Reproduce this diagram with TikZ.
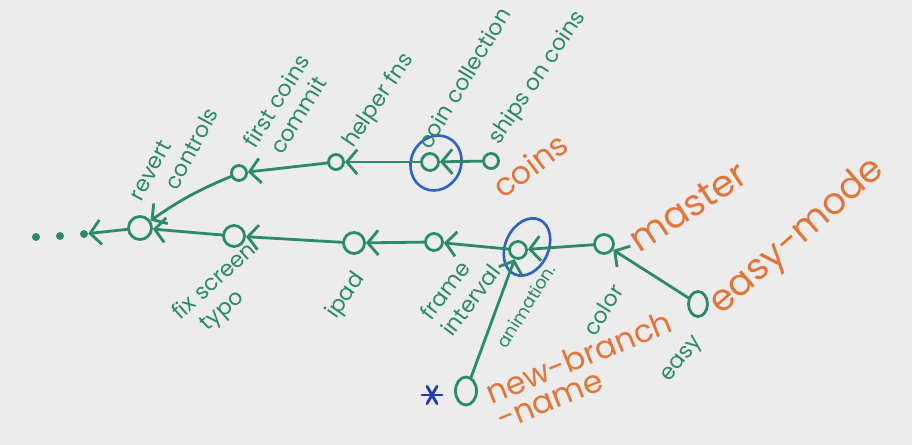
\documentclass[tikz,border=0pt]{standalone}
\usepackage{fontspec}
\setmainfont{Poppins}
\usetikzlibrary{arrows.meta, positioning, shapes.geometric}
\definecolor{cgreen}{HTML}{2B8A6B}
\definecolor{corange}{HTML}{E2763A}
\definecolor{cblue}{HTML}{2E64BF}
\definecolor{cstar}{HTML}{2338B2}
\definecolor{cboard}{HTML}{ECECEC}
\tikzset{
  commit/.style={draw=cgreen, circle, line width=1.6pt, inner sep=0pt,
                 minimum size=0.32cm},
  trail/.style={fill=cgreen, circle, inner sep=0pt, minimum size=0.16cm},
  parent/.style={-{Straight Barb[length=6pt, width=14pt]}, line width=1.6pt,
                 cgreen, line cap=round},
  msg/.style={text=cgreen, font=\fontsize{12.5}{15}\selectfont, inner sep=0pt},
  branch/.style={text=corange, font=\fontsize{18}{16}\selectfont, inner sep=0pt},
  ring/.style={draw=cblue, ellipse, line width=1.5pt, inner sep=0pt},
}

\begin{document}
\begin{tikzpicture}[x=0.02cm, y=-0.02cm]
  \fill[cboard] (0,0) rectangle (912,445);
  \useasboundingbox (0,0) rectangle (912,445);
  % history before
  \node[trail] (d1) at (36,237) {};
  \node[trail] (d2) at (60,236) {};
  \node[trail] (d3) at (84,234) {};
  % master line
  \node[commit, minimum size=0.46cm] (rev) at (140,228) {};
  \node[commit, minimum size=0.42cm] (fst) at (234,236) {};
  \node[commit, minimum size=0.42cm] (ipad) at (354,243) {};
  \node[commit, minimum size=0.34cm] (fint) at (434,242) {};
  \node[commit, minimum size=0.34cm] (anim) at (518,250) {};
  \node[commit, minimum size=0.38cm] (col) at (604,244) {};
  \node[commit, ellipse, minimum width=0.38cm, minimum height=0.5cm] (easy) at (698,304) {};
  \node[commit, ellipse, minimum width=0.42cm, minimum height=0.56cm] (nbn) at (466,391) {};
  % coins branch
  \node[commit, minimum size=0.3cm] (fcc) at (239,173) {};
  \node[commit, minimum size=0.3cm] (hfn) at (336,162) {};
  \node[commit, minimum size=0.34cm] (ccol) at (430,162) {};
  \node[commit, minimum size=0.3cm] (soc) at (491,161) {};
  % highlights
  \node[ring, minimum width=1.0cm, minimum height=1.12cm, rotate=-25] (ccring) at (436,163) {};
  \node[ring, minimum width=0.86cm, minimum height=1.2cm, rotate=-25] (anring) at (527,247) {};
  % parents
  \draw[parent] (rev) -- (d3);
  \draw[parent] (fst) -- (rev);
  \draw[parent] (fcc) to[bend right=6] (rev);
  \draw[parent] (hfn) -- (fcc);
  \draw[parent] (ccol) -- (hfn);
  \draw[parent] (soc) -- (ccol);
  \draw[parent] (ipad) -- (fst);
  \draw[parent] (fint) -- (ipad);
  \draw[parent] (anim) -- (fint);
  \draw[parent] (col) -- (anim);
  \draw[parent] (easy) -- (col);
  \draw[parent] (nbn) -- (anim);
  % commit messages
  \node[msg, rotate=62, align=left] (lrev) at (174,154) {revert\\\hspace*{1.2em}controls};
  \node[msg, rotate=58, align=center] (lfcc) at (287,108) {first coins\\commit};
  \node[msg, rotate=56] (lhfn) at (379,101) {helper fns};
  \node[msg, rotate=59] (lccol) at (464,78) {coin collection};
  \node[msg, rotate=56] (lsoc) at (538,78) {ships on coins};
  \node[msg, rotate=42, align=left] (lfst) at (224,292) {fix screen\\\hspace*{0.6em}typo};
  \node[msg, rotate=55] (lipad) at (346,296) {ipad};
  \node[msg, rotate=53, align=left] (lfint) at (460,292) {frame\\interval};
  \node[msg, rotate=58, font=\fontsize{10}{10}\selectfont] (lanim) at (526,306) {animation.};
  \node[msg, rotate=58] (lcol) at (603,310) {color};
  \node[msg, rotate=52] (leasy) at (683,360) {easy};
  % branch names
  \node[branch, rotate=37] (bcoins) at (530,165) {coins};
  \node[branch, rotate=33, font=\fontsize{21}{21}\selectfont] (bmaster) at (688,207) {master};
  \node[branch, rotate=41, font=\fontsize{21}{21}\selectfont] (beasy) at (798,237) {easy-mode};
  \node[branch, rotate=22, align=left] (bnew) at (584,370) {new-branch\\-name};
  % HEAD
  \coordinate (star) at (432,395);
  \foreach \a in {0,60,120}
    \draw[cstar, line width=1.6pt, line cap=round] (star) ++(\a:10) -- ++(\a+180:20);
\end{tikzpicture}
\end{document}
